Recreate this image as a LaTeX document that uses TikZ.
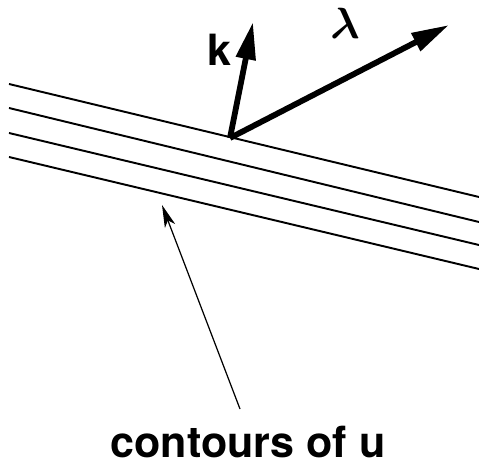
\documentclass[tikz,border=0pt]{standalone}
\usepackage{bm}
\usepackage{fontspec}
\setsansfont{TeX Gyre Heros}
\usetikzlibrary{arrows.meta}

\begin{document}
\begin{tikzpicture}[x=0.02cm, y=-0.02cm,
    contorno/.style={line width=1.1pt},
    vetor/.style={line width=3.3pt, -{Triangle[length=7.5mm, width=3.8mm]}},
    seta/.style={line width=0.7pt, -{Stealth[length=4.5mm, width=2.2mm, inset=1.2mm]}},
    rotulo/.style={font=\sffamily\bfseries\fontsize{24.5}{28}\selectfont, inner sep=0pt}]

    % 0. Moldura fixa (mesmas proporções da figura original)
    \useasboundingbox (0,0) rectangle (479,465);

    % 1. Curvas de nível de u (quatro retas paralelas)
    \foreach \ya/\yb in {84/197, 108/222, 133/245, 157/269}
        \draw[contorno] (9,\ya) -- (479,\yb);

    % 2. Os dois vetores saindo do mesmo ponto da primeira curva
    \coordinate (origem) at (230,138);
    \coordinate (ponta k) at (253,22);
    \coordinate (ponta lambda) at (449,25);
    \draw[vetor] (origem) -- (ponta k);
    \draw[vetor] (origem) -- (ponta lambda);

    % 3. Rótulos dos vetores
    \node[rotulo] (k) at (219,50) {k};
    \node[font=\fontsize{36}{40}\selectfont, inner sep=0pt] (lambda) at (345,23) {$\bm{\lambda}$};

    % 4. Legenda embaixo e seta fina apontando para as curvas
    \node[rotulo] (legenda) at (248,442) {contours of u};
    \coordinate (cauda) at (240,409);
    \coordinate (alvo) at (162,205);
    \draw[seta] (cauda) -- (alvo);

\end{tikzpicture}
\end{document}
